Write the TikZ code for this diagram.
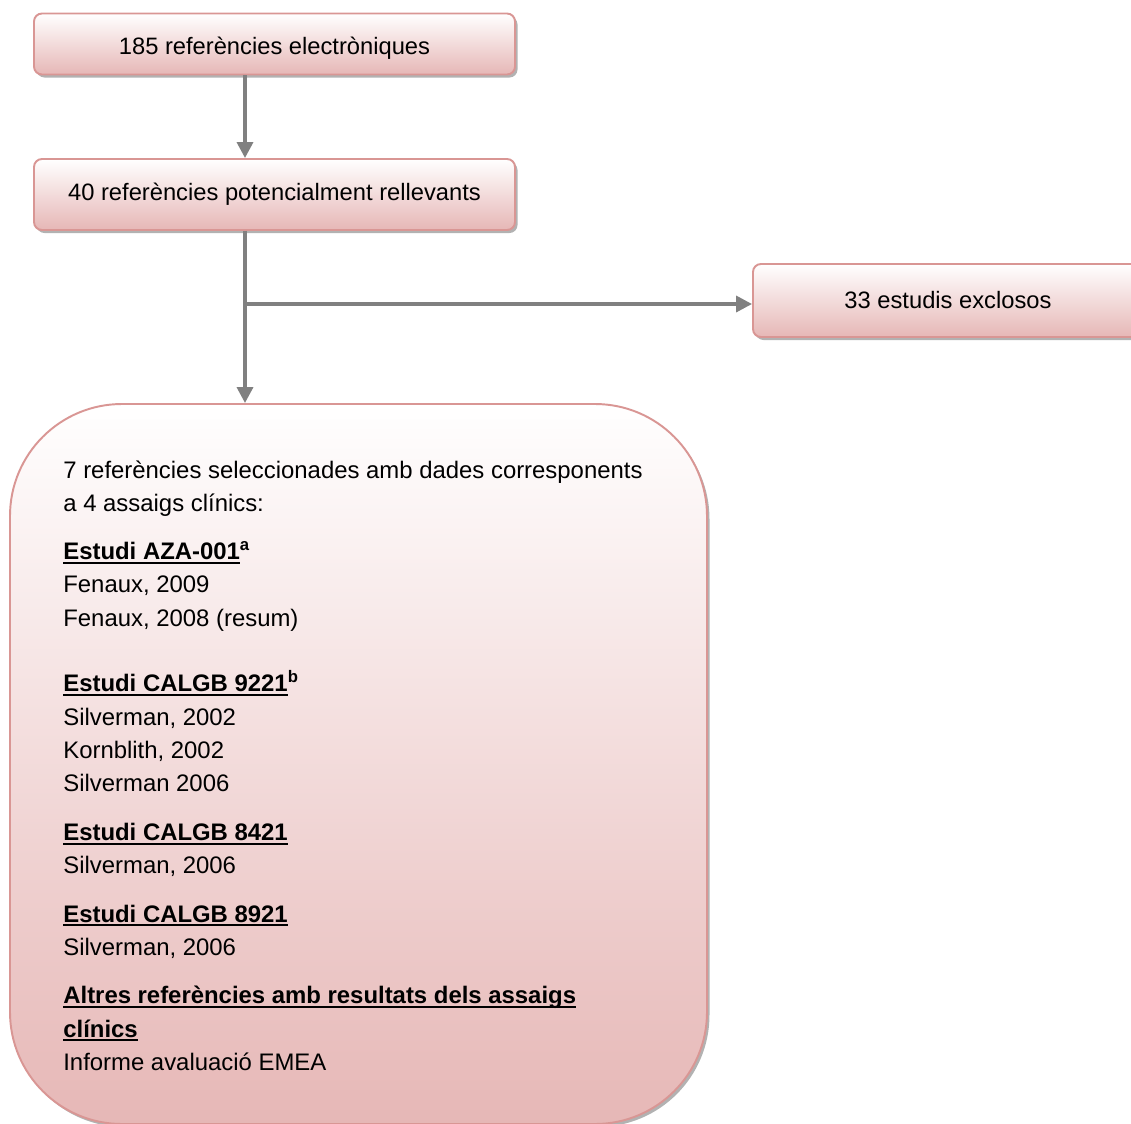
\documentclass[tikz,border=0pt]{standalone}
\usepackage{fontspec}
\setmainfont{Liberation Sans}
\usetikzlibrary{arrows.meta,shadows}

\definecolor{pinkedge}{RGB}{217,150,148}
\definecolor{pinkfill}{RGB}{230,183,182}
\definecolor{flowgray}{RGB}{128,128,128}

\newcommand{\ulbar}[1]{\setbox0\hbox{#1}\rlap{\rule[-2.4pt]{\wd0}{1.1pt}}\box0}

\begin{document}
\begin{tikzpicture}[
    refbox/.style={draw=pinkedge, line width=1.1pt, rounded corners=0.16cm, top color=white, bottom color=pinkfill,
        drop shadow={shadow xshift=0.05cm, shadow yshift=-0.06cm, fill=black, opacity=0.3},
        font=\fontsize{13.5pt}{16pt}\selectfont},
    flow/.style={draw=flowgray, line width=2pt, -{Triangle[length=9pt,width=9pt]}}
]
                \useasboundingbox (0, 0) rectangle (22.62, -22.48);
                \clip (0, 0) rectangle (22.62, -22.48);

                \node[refbox, minimum width=9.62cm, minimum height=1.22cm, text height=0.53cm] (electr) at (5.49, -0.88) {185 referències electròniques};
                \node[refbox, minimum width=9.62cm, minimum height=1.42cm] (potenc) at (5.49, -3.89) {40 referències potencialment rellevants};
                \node[refbox, minimum width=7.8cm, minimum height=1.46cm] (exclos) at (18.96, -6.01) {33 estudis exclosos};
                \node[refbox, rounded corners=2.24cm, minimum width=13.94cm, minimum height=14.4cm] (selec) at (7.17, -15.28) {};

                \node[anchor=north west, align=left, inner sep=0pt, font=\fontsize{13.6pt}{19pt}\selectfont] (selectext) at (1.26, -9.21) {%
                    7 referències seleccionades amb dades corresponents\\
                    a 4 assaigs clínics:\\[8pt]
                    \textbf{\ulbar{Estudi AZA-001}\textsuperscript{a}}\\
                    Fenaux, 2009\\
                    Fenaux, 2008 (resum)\\[18.4pt]
                    \textbf{\ulbar{Estudi CALGB 9221}\textsuperscript{b}}\\
                    Silverman, 2002\\
                    Kornblith, 2002\\
                    Silverman 2006\\[8.5pt]
                    \textbf{\ulbar{Estudi CALGB 8421}}\\
                    Silverman, 2006\\[8.5pt]
                    \textbf{\ulbar{Estudi CALGB 8921}}\\
                    Silverman, 2006\\[8.5pt]
                    \textbf{\ulbar{Altres referències amb resultats dels assaigs}}\\
                    \textbf{\ulbar{clínics}}\\
                    Informe avaluació EMEA};

                \coordinate (trunk) at (4.9, 0);
                \coordinate (split) at (4.9, -6.08);

                % electr -> potenc
                \draw[flow] (electr.south -| trunk) -- (potenc.north -| trunk);

                % potenc -> selec
                \draw[flow] (potenc.south -| trunk) -- (selec.north -| trunk);

                % split -> exclos
                \draw[flow] (split) -- (split -| exclos.west);

\end{tikzpicture}
\end{document}
